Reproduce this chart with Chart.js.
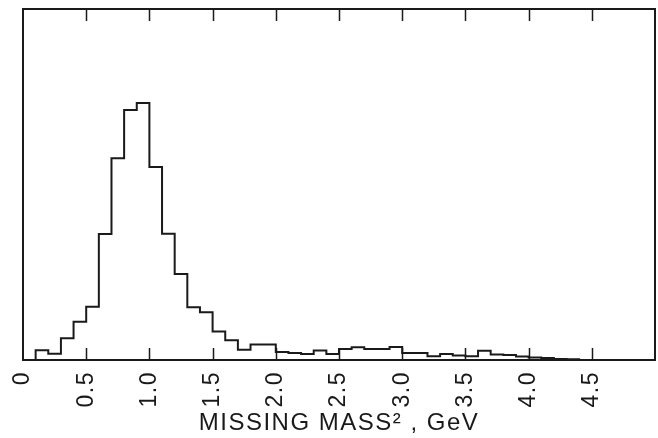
<!DOCTYPE html>
<html>
<head>
<meta charset="utf-8">
<script src="https://cdn.jsdelivr.net/npm/chart.js@4.4.0/dist/chart.umd.min.js"></script>
<style>
    body { margin: 0; background: #fff; }
    #wrap { width: 658px; height: 438px; }
</style>
</head>
<body>
<div id="wrap"><canvas id="massChart"></canvas></div>
<script>
        // 히스토그램 빈 경계 (GeV^2), 마지막 값은 오른쪽 끝
        const binEdges = [
            0.0, 0.1, 0.2, 0.3, 0.4, 0.5, 0.6, 0.7, 0.8, 0.9,
            1.0, 1.1, 1.2, 1.3, 1.4, 1.5, 1.6, 1.7, 1.8, 1.9,
            2.0, 2.1, 2.2, 2.3, 2.4, 2.5, 2.6, 2.7, 2.8, 2.9,
            3.0, 3.1, 3.2, 3.3, 3.4, 3.5, 3.6, 3.7, 3.8, 3.9,
            4.0, 4.1, 4.2, 4.3, 4.4
        ];
        // 빈별 높이 (임의 단위, 프레임 높이 = 100)
        const binCounts = [
            0, 2.8, 1.8, 6.2, 10.9, 15.2, 35.9, 57.5, 71.2, 73.2,
            55.0, 36.0, 24.5, 15.0, 13.6, 8.1, 5.6, 2.9, 4.4, 4.4,
            2.3, 2.0, 1.7, 2.7, 1.7, 3.1, 3.6, 3.1, 3.1, 3.7,
            2.0, 2.0, 1.1, 1.7, 1.3, 1.1, 2.6, 1.6, 1.4, 1.0,
            0.7, 0.6, 0.3, 0.2
        ];
        const tickValues = [0, 0.5, 1.0, 1.5, 2.0, 2.5, 3.0, 3.5, 4.0, 4.5];
        const tickLabels = ['0', '0.5', '1.0', '1.5', '2.0', '2.5', '3.0', '3.5', '4.0', '4.5'];

        const inkColor = '#1a1a1a';

        // 각 빈의 왼쪽 경계에 값을 두고 마지막에 0으로 닫음
        const stepPoints = binCounts.map((v, i) => ({ x: binEdges[i], y: v }));
        stepPoints.push({ x: binEdges[binEdges.length - 1], y: 0 });

        // 글자 간격 조금 넓히기 (원본 글꼴이 넓음)
        const spacingPlugin = {
            id: 'spacing',
            beforeDraw(chart) {
                chart.ctx.letterSpacing = '1.5px';
            }
        };

        // 프레임과 안쪽으로 향하는 눈금 그리기
        const framePlugin = {
            id: 'frame',
            afterDatasetsDraw(chart) {
                const { ctx, chartArea } = chart;
                const xs = chart.scales.x;
                ctx.save();
                ctx.strokeStyle = inkColor;
                ctx.lineWidth = 2;
                ctx.strokeRect(chartArea.left, chartArea.top,
                    chartArea.right - chartArea.left, chartArea.bottom - chartArea.top);
                ctx.lineWidth = 1.5;
                tickValues.forEach(v => {
                    if (v === 0) return;
                    const px = Math.round(xs.getPixelForValue(v)) + 0.5;
                    ctx.beginPath();
                    ctx.moveTo(px, chartArea.top);
                    ctx.lineTo(px, chartArea.top + 12);
                    ctx.moveTo(px, chartArea.bottom);
                    ctx.lineTo(px, chartArea.bottom - 12);
                    ctx.stroke();
                });
                ctx.restore();
            }
        };

        const chart = new Chart(document.getElementById('massChart').getContext('2d'), {
            type: 'line',
            data: {
                datasets: [{
                    data: stepPoints,
                    stepped: 'before',
                    borderColor: inkColor,
                    borderWidth: 2,
                    pointRadius: 0,
                    fill: false
                }]
            },
            options: {
                responsive: true,
                maintainAspectRatio: false,
                animation: false,
                layout: { padding: { left: 23, right: 3, top: 9, bottom: 0 } },
                plugins: {
                    legend: { display: false },
                    tooltip: { enabled: false }
                },
                scales: {
                    x: {
                        type: 'linear',
                        min: 0,
                        max: 5,
                        afterBuildTicks: scale => {
                            scale.ticks = tickValues.map(v => ({ value: v }));
                        },
                        afterFit: scale => {
                            scale.height = 78;
                        },
                        grid: { display: false },
                        border: { display: false },
                        ticks: {
                            autoSkip: false,
                            minRotation: 90,
                            maxRotation: 90,
                            padding: 3,
                            color: inkColor,
                            font: { family: 'Liberation Sans', size: 23 },
                            callback: (value, index) => tickLabels[index]
                        },
                        title: {
                            display: true,
                            text: 'MISSING MASS² , GeV',
                            color: inkColor,
                            padding: 0,
                            font: { family: 'Liberation Sans', size: 24 }
                        }
                    },
                    y: {
                        display: false,
                        min: 0,
                        max: 100
                    }
                }
            },
            plugins: [spacingPlugin, framePlugin]
        });
</script>
</body>
</html>
